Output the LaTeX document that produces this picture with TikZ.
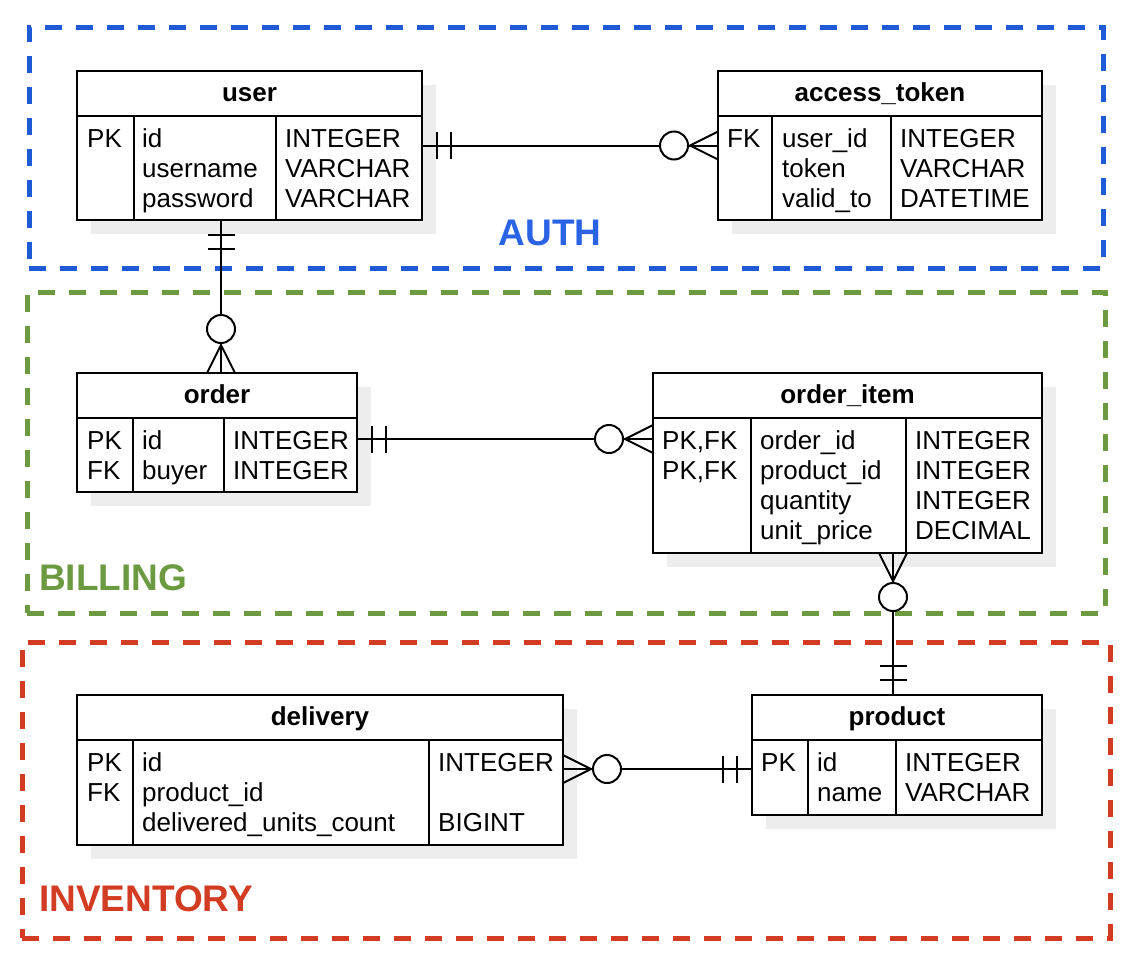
\documentclass[tikz,border=0pt]{standalone}
\usepackage{fontspec}
\setmainfont{Liberation Sans}
\usetikzlibrary{calc,shadows}
\definecolor{authc}{HTML}{1F5BD6}
\definecolor{authtxt}{HTML}{2A63E4}
\definecolor{billc}{HTML}{6C9A41}
\definecolor{invc}{HTML}{D23C22}
\definecolor{shadowc}{HTML}{EDEDED}
\tikzset{
  grp/.style={line width=5pt, dash pattern=on 17pt off 14pt, anchor=north west, inner sep=0pt, outer sep=0pt},
  glabel/.style={font=\bfseries\fontsize{37}{40}\selectfont, inner sep=0pt},
  tbl/.style={draw, line width=2pt, fill=white, anchor=north west, inner sep=0pt, outer sep=0pt,
    drop shadow={shadow xshift=14pt, shadow yshift=-14pt, fill=shadowc, opacity=1}},
  tline/.style={line width=2pt},
  ttl/.style={font=\bfseries\fontsize{26}{30}\selectfont, anchor=base, inner sep=0pt},
  cell/.style={font=\fontsize{26}{30}\selectfont, anchor=base west, inner sep=0pt},
  rel/.style={line width=2pt},
  mandone/.pic={\draw[rel] (15,-13.5) -- (15,13.5) (29,-13.5) -- (29,13.5);},
  zeromany/.pic={\draw[rel] (0,-14) -- (28,0) -- (0,14);
                 \draw[rel, fill=white] (44,0) circle[radius=14pt];}
}
\newcommand\ertable[8]{%
  \node[tbl, minimum width=#4pt, minimum height=#5pt] (#1) at (#2,#3) {};
  \node[ttl] (#1-title) at ($(#1.north west)!0.5!(#1.north east)+(0,30.5)$) {#6};
  \draw[tline] ($(#1.north west)+(0,45)$) -- ($(#1.north east)+(0,45)$);
  \draw[tline] ($(#1.north west)+(#7,45)$) -- ($(#1.south west)+(#7,0)$);
  \draw[tline] ($(#1.north west)+(#8,45)$) -- ($(#1.south west)+(#8,0)$);
}
\newcommand\ertcol[4]{%
  \foreach \t [count=\i] in {#4} {\node[cell] (#1-\i) at ({#2+1},{#3+30*\i+1.5}) {\t};}%
}
\begin{document}
\begin{tikzpicture}[x=1pt,y=-1pt]
\useasboundingbox (0,0) rectangle (1132,967);
% groups
\node[grp, draw=authc, minimum width=1074pt, minimum height=241pt] (auth) at (29,27) {};
\node[grp, draw=billc, minimum width=1078pt, minimum height=321pt] (billing) at (27,292) {};
\node[grp, draw=invc, minimum width=1088pt, minimum height=296pt] (inventory) at (22,642) {};
\node[glabel, text=authtxt, anchor=base] (auth-label) at (550,245) {AUTH};
\node[glabel, text=billc, anchor=base west] (billing-label) at (39,590) {BILLING};
\node[glabel, text=invc, anchor=base west] (inventory-label) at (39,911) {INVENTORY};
% tables
\ertable{user}{77}{71}{345}{149}{user}{57}{199}
\ertcol{user-k}{86}{116}{PK}
\ertcol{user-n}{141}{116}{id,username,password}
\ertcol{user-t}{284}{116}{INTEGER,VARCHAR,VARCHAR}

\ertable{token}{718}{71}{324}{149}{access\_token}{54}{173}
\ertcol{token-k}{726}{116}{FK}
\ertcol{token-n}{781}{116}{user\_id,token,valid\_to}
\ertcol{token-t}{899}{116}{INTEGER,VARCHAR,DATETIME}

\ertable{order}{77}{373}{280}{119}{order}{56}{147}
\ertcol{order-k}{86}{418}{PK,FK}
\ertcol{order-n}{141}{418}{id,buyer}
\ertcol{order-t}{232}{418}{INTEGER,INTEGER}

\ertable{item}{653}{373}{389}{180}{order\_item}{98}{253}
\ertcol{item-k}{661}{418}{{PK,FK},{PK,FK}}
\ertcol{item-n}{759}{418}{order\_id,product\_id,quantity,unit\_price}
\ertcol{item-t}{914}{418}{INTEGER,INTEGER,INTEGER,DECIMAL}

\ertable{delivery}{77}{695}{486}{150}{delivery}{56}{352}
\ertcol{delivery-k}{86}{740}{PK,FK}
\ertcol{delivery-n}{141}{740}{id,product\_id,delivered\_units\_count}
\ertcol{delivery-t}{437}{740}{INTEGER}
\node[cell] (delivery-t-3) at (438,{740+90+1.5}) {BIGINT};

\ertable{product}{752}{695}{290}{120}{product}{56}{144}
\ertcol{product-k}{760}{740}{PK}
\ertcol{product-n}{816}{740}{id,name}
\ertcol{product-t}{904}{740}{INTEGER,VARCHAR}

% relations
\draw[rel] (user.east) -- (token.west);
\pic at (user.east) {mandone};
\pic[rotate=180] at (token.west) {zeromany};

\draw[rel] ([xshift=144pt]user.south west) -- ([xshift=144pt]order.north west);
\pic[rotate=-90] at ([xshift=144pt]user.south west) {mandone};
\pic[rotate=90] at ([xshift=144pt]order.north west) {zeromany};

\draw[rel] ([yshift=-66pt]order.north east) -- ([yshift=-66pt]item.north west);
\pic at ([yshift=-66pt]order.north east) {mandone};
\pic[rotate=180] at ([yshift=-66pt]item.north west) {zeromany};

\draw[rel] ([xshift=240pt]item.south west) -- ([xshift=141pt]product.north west);
\pic[rotate=-90] at ([xshift=240pt]item.south west) {zeromany};
\pic[rotate=90] at ([xshift=141pt]product.north west) {mandone};

\draw[rel] ([yshift=-74pt]delivery.north east) -- ([yshift=-74pt]product.north west);
\pic at ([yshift=-74pt]delivery.north east) {zeromany};
\pic[rotate=180] at ([yshift=-74pt]product.north west) {mandone};
\end{tikzpicture}
\end{document}
